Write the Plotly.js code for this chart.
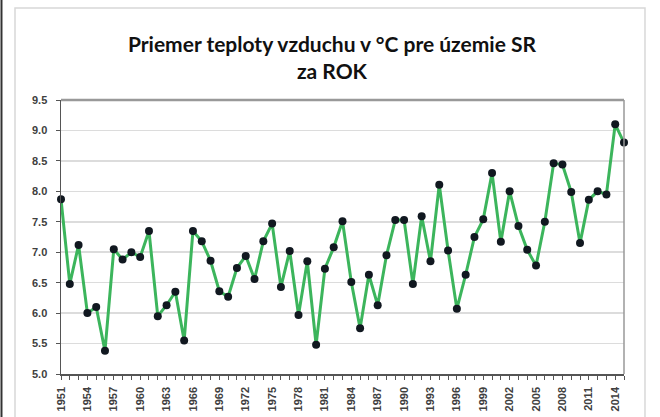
<!DOCTYPE html>
<html>
<head>
<meta charset="utf-8">
<script src="https://cdn.plot.ly/plotly-3.0.1.min.js"></script>
<style>html,body{margin:0;padding:0;background:#fff;}#chart{width:660px;height:417px;}</style>
</head>
<body>
<div id="chart"></div>
<script>
const years = [1951,1952,1953,1954,1955,1956,1957,1958,1959,1960,
  1961,1962,1963,1964,1965,1966,1967,1968,1969,1970,
  1971,1972,1973,1974,1975,1976,1977,1978,1979,1980,
  1981,1982,1983,1984,1985,1986,1987,1988,1989,1990,
  1991,1992,1993,1994,1995,1996,1997,1998,1999,2000,
  2001,2002,2003,2004,2005,2006,2007,2008,2009,2010,
  2011,2012,2013,2014,2015];
const temps = [7.87,6.48,7.12,6.00,6.10,5.38,7.05,6.88,7.00,6.92,
  7.35,5.95,6.13,6.35,5.55,7.35,7.18,6.86,6.36,6.27,
  6.74,6.94,6.56,7.18,7.47,6.43,7.02,5.97,6.85,5.48,
  6.73,7.08,7.51,6.51,5.75,6.63,6.13,6.95,7.53,7.53,
  6.48,7.59,6.85,8.11,7.03,6.07,6.63,7.25,7.54,8.30,
  7.17,8.00,7.43,7.04,6.78,7.50,8.46,8.44,7.99,7.15,
  7.86,8.00,7.95,9.10,8.80];
const xTickVals = [1951,1954,1957,1960,1963,1966,1969,1972,1975,1978,1981,1984,1987,1990,1993,1996,1999,2002,2005,2008,2011,2014];
const yTickVals = [5.0,5.5,6.0,6.5,7.0,7.5,8.0,8.5,9.0,9.5];
const titleText = 'Priemer teploty vzduchu v °C pre územie SR<br>za ROK';

const trace = {
  x: years, y: temps, type: 'scatter', mode: 'lines+markers',
  line: {color: '#3cb55c', width: 3},
  marker: {color: '#111820', size: 8},
  cliponaxis: false, hoverinfo: 'skip'
};

const layout = {
  width: 660, height: 417,
  margin: {l: 61, r: 36, t: 100, b: 43},
  paper_bgcolor: '#ffffff', plot_bgcolor: '#ffffff',
  showlegend: false,
  title: {text: titleText, x: 0.503, xanchor: 'center', y: 0.875, yanchor: 'top',
    font: {family: 'Lato, sans-serif', size: 21, color: '#111111', weight: 'bold'}},
  xaxis: {
    range: [1951, 2015], tickvals: xTickVals, ticktext: xTickVals.map(String),
    tickangle: -90, ticks: 'outside', ticklen: 4, tickcolor: '#555',
    minor: {dtick: 1, tick0: 1951, ticks: 'outside', ticklen: 4, tickcolor: '#555', showgrid: false},
    showgrid: false, zeroline: false, ticklabelstandoff: 3,
    showline: true, linecolor: '#555', linewidth: 1.5, mirror: false,
    tickfont: {family: 'Liberation Sans, Arial, sans-serif', size: 11, color: '#404040', weight: 'bold'}
  },
  yaxis: {
    range: [5, 9.5], tickvals: yTickVals, ticktext: yTickVals.map(v => v.toFixed(1)),
    ticks: 'outside', ticklen: 4, tickcolor: '#555', ticklabelstandoff: 6,
    showgrid: true, gridcolor: '#dcdcdc', gridwidth: 1.5, zeroline: false,
    showline: true, linecolor: '#555', linewidth: 1.5,
    tickfont: {family: 'Liberation Sans, Arial, sans-serif', size: 11, color: '#404040', weight: 'bold'}
  },
  shapes: [
    {type: 'line', xref: 'paper', yref: 'paper', x0: 0, x1: 1, y0: 1, y1: 1, line: {color: '#999', width: 2.5}},
    {type: 'line', xref: 'paper', yref: 'paper', x0: 1, x1: 1, y0: 0, y1: 1, line: {color: '#999', width: 1.5}},
    {type: 'rect', xref: 'paper', yref: 'paper', x0: -0.0817, x1: 1.0373, y0: -0.2, y1: 1.336, line: {color: '#d8d8d8', width: 1.5}, layer: 'below'},
    {type: 'line', xref: 'paper', yref: 'paper', x0: -0.1057, x1: -0.1057, y0: -0.2, y1: 1.37, line: {color: '#333', width: 2}}
  ]
};

Plotly.newPlot('chart', [trace], layout, {displayModeBar: false, staticPlot: true});
</script>
</body>
</html>
